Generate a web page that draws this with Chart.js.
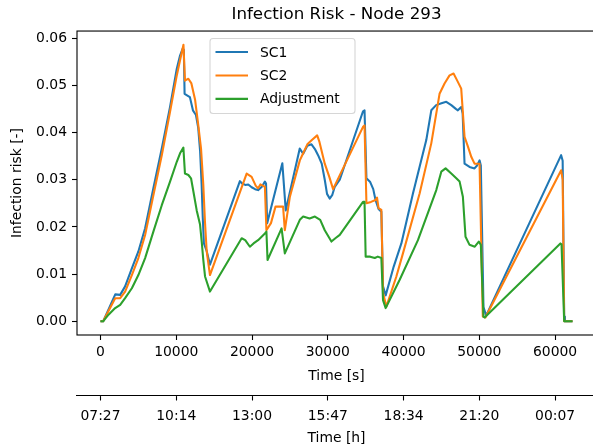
<!DOCTYPE html>
<html>
<head>
<meta charset="utf-8">
<script src="https://cdn.jsdelivr.net/npm/chart.js@4/dist/chart.umd.min.js"></script>
<style>
  body { margin: 0; overflow: hidden; background: #fff; }
  canvas { display: block; }
</style>
</head>
<body>
<canvas id="riskChart" width="600" height="448"></canvas>
<script>
// time [s], infection risk [-]
const sc1 = [[0,0],[350,0],[1950,0.0057],[2600,0.0056],[3250,0.0074],[4140,0.0112],[5000,0.0148],[5890,0.0197],[6980,0.0282],[8090,0.0366],[9180,0.0454],[10070,0.0535],[10500,0.0563],[10850,0.0578],[11000,0.0575],[11100,0.0482],[11800,0.0475],[12200,0.0447],[12600,0.0437],[12900,0.0410],[13150,0.0360],[13350,0.0290],[13500,0.0220],[13650,0.0165],[14000,0.0150],[14450,0.0120],[18400,0.0297],[18700,0.0292],[19100,0.0289],[19500,0.0290],[19950,0.0284],[20400,0.0280],[20800,0.0278],[21300,0.0285],[21700,0.0296],[21850,0.0292],[22000,0.0208],[24000,0.0335],[24450,0.0235],[26300,0.0366],[26750,0.0355],[27300,0.0372],[27850,0.0375],[28300,0.0365],[28720,0.0352],[29200,0.0334],[29600,0.0300],[29900,0.0270],[30250,0.0260],[30600,0.0268],[30920,0.0285],[31580,0.0300],[34650,0.0445],[34850,0.0447],[35100,0.0303],[35600,0.0295],[36000,0.0280],[36300,0.0257],[36700,0.0238],[37070,0.0232],[37290,0.0074],[37640,0.0055],[38700,0.0116],[39710,0.0165],[41240,0.0271],[43000,0.0384],[43660,0.0447],[44300,0.0458],[45000,0.0462],[45640,0.0465],[46300,0.0458],[46900,0.0450],[47170,0.0447],[47610,0.0454],[47800,0.0440],[48050,0.0334],[48710,0.0327],[49370,0.0324],[49700,0.0330],[50030,0.0341],[50200,0.0330],[50550,0.0030],[50900,0.0012],[60800,0.0352],[61000,0.0340],[61200,0.0010],[61300,0],[62300,0]];

const sc2 = [[0,0],[350,0],[1940,0.0049],[2600,0.0049],[3250,0.0063],[4140,0.0098],[5000,0.0134],[5890,0.0183],[6980,0.0267],[8090,0.0352],[9180,0.0444],[10070,0.0521],[10500,0.0553],[10950,0.0586],[11150,0.0510],[11600,0.0514],[12000,0.0504],[12480,0.0470],[12910,0.0415],[13270,0.0366],[13570,0.0289],[13790,0.0211],[14020,0.0148],[14450,0.0098],[19290,0.0313],[19950,0.0306],[20500,0.0287],[20800,0.0282],[21100,0.0290],[21700,0.0285],[21900,0.0193],[22500,0.0208],[23100,0.0243],[24100,0.0243],[24330,0.0193],[25000,0.0264],[26310,0.0341],[26750,0.0356],[27300,0.0375],[27900,0.0384],[28600,0.0394],[28900,0.0380],[29600,0.0334],[30200,0.0306],[30700,0.0280],[34650,0.0412],[34850,0.0415],[35100,0.0250],[35700,0.0253],[36300,0.0257],[36500,0.0262],[36700,0.0240],[37070,0.0236],[37300,0.0060],[37730,0.0031],[39050,0.0095],[39920,0.0144],[42120,0.0271],[43660,0.0377],[44750,0.0482],[45410,0.0504],[46070,0.0521],[46600,0.0525],[47050,0.0511],[47610,0.0493],[48050,0.0391],[48500,0.0370],[48950,0.0348],[49370,0.0334],[50030,0.0334],[50460,0.0010],[50800,0.0008],[60800,0.0320],[61000,0.0300],[61200,0],[62300,0]];

const adjustment = [[0,0],[350,0],[1060,0.0014],[1940,0.0028],[2600,0.0035],[3250,0.0049],[4140,0.0070],[5000,0.0098],[5890,0.0134],[6980,0.0190],[8090,0.0246],[9180,0.0296],[10070,0.0338],[10500,0.0356],[10940,0.0368],[11150,0.0313],[11600,0.0310],[11950,0.0303],[12250,0.0276],[12700,0.0235],[13140,0.0205],[13360,0.0169],[13570,0.0130],[13800,0.0095],[14450,0.0063],[18630,0.0176],[19100,0.0172],[19720,0.0158],[20200,0.0165],[20800,0.0172],[21700,0.0186],[21900,0.0190],[22050,0.0130],[23900,0.0197],[24330,0.0144],[26310,0.0215],[26750,0.0222],[27600,0.0218],[28300,0.0222],[29000,0.0215],[29600,0.0193],[30480,0.0169],[31000,0.0176],[31580,0.0183],[34650,0.0253],[34850,0.0253],[35000,0.0137],[35600,0.0137],[36200,0.0134],[36600,0.0137],[37070,0.0134],[37290,0.0045],[37640,0.0028],[39490,0.0088],[41900,0.0172],[44320,0.0278],[44980,0.0317],[45550,0.0324],[46300,0.0313],[46960,0.0303],[47400,0.0296],[47830,0.0264],[48180,0.0179],[48710,0.0162],[49400,0.0158],[49930,0.0169],[50200,0.0162],[50550,0.0010],[50700,0.0008],[60700,0.0165],[60850,0.0163],[61200,0],[62300,0]];

const secondTicks = [0, 10000, 20000, 30000, 40000, 50000, 60000];
const hourLabels = ['07:27', '10:14', '13:00', '15:47', '18:34', '21:20', '00:07'];
const riskTicks = [0, 0.01, 0.02, 0.03, 0.04, 0.05, 0.06];

const toXY = arr => arr.map(p => ({x: p[0], y: p[1]}));

Chart.defaults.font.family = '"DejaVu Sans", sans-serif';
Chart.defaults.font.size = 13.9;
Chart.defaults.color = '#000';

// matplotlib-like box around the axes
const frame = {
  id: 'frame',
  afterDatasetsDraw(chart) {
    const {ctx, chartArea: a} = chart;
    ctx.save();
    ctx.strokeStyle = '#000';
    ctx.lineWidth = 1.1;
    ctx.strokeRect(a.left, a.top, a.right - a.left, a.bottom - a.top);
    ctx.restore();
  }
};

const legendBox = {
  id: 'legendBox',
  afterDraw(chart) {
    const {ctx, chartArea} = chart;
    const x = chartArea.left + 133, y = chartArea.top + 7.5, w = 145, h = 75;
    ctx.save();
    ctx.beginPath();
    ctx.roundRect(x, y, w, h, 3);
    ctx.fillStyle = 'rgba(255,255,255,0.8)';
    ctx.fill();
    ctx.strokeStyle = 'rgba(204,204,204,0.8)';
    ctx.lineWidth = 1.1;
    ctx.stroke();
    ctx.font = '13.9px "DejaVu Sans"';
    ctx.textBaseline = 'middle';
    ctx.fillStyle = '#000';
    chart.data.datasets.forEach((ds, i) => {
      const ry = y + 13.5 + i * 23.4;
      ctx.strokeStyle = ds.borderColor;
      ctx.lineWidth = 2.08;
      ctx.beginPath();
      ctx.moveTo(x + 5.5, ry);
      ctx.lineTo(x + 38, ry);
      ctx.stroke();
      ctx.fillText(ds.label, x + 50, ry + 1);
    });
    ctx.restore();
  }
};

const tickGrid = {display: true, drawOnChartArea: false, drawTicks: true, tickLength: 5, tickColor: '#000', tickWidth: 1.1};
const setTicks = values => scale => { scale.ticks = values.map(v => ({value: v})); };

new Chart(document.getElementById('riskChart'), {
  type: 'line',
  data: {
    datasets: [
      {label: 'SC1', data: toXY(sc1), borderColor: '#1f77b4', order: 3},
      {label: 'SC2', data: toXY(sc2), borderColor: '#ff7f0e', order: 2},
      {label: 'Adjustment', data: toXY(adjustment), borderColor: '#2ca02c', order: 1}
    ]
  },
  options: {
    responsive: false,
    animation: false,
    devicePixelRatio: 1,
    elements: {
      line: {borderWidth: 2.08, tension: 0, fill: false, borderJoinStyle: 'round'},
      point: {radius: 0}
    },
    layout: {padding: {left: 0, right: 4, top: 0, bottom: 0}},
    plugins: {
      legend: {display: false},
      tooltip: {enabled: false},
      title: {
        display: true,
        text: 'Infection Risk - Node 293',
        fullSize: false,
        font: {size: 16.7, weight: 'normal'},
        color: '#000',
        padding: {top: 5, bottom: 6}
      }
    },
    scales: {
      x: {
        type: 'linear',
        position: 'bottom',
        weight: 0,
        min: -3100,
        max: 65400,
        grid: tickGrid,
        border: {display: false},
        afterBuildTicks: setTicks(secondTicks),
        afterFit: s => { s.height = 60.5; },
        ticks: {padding: 4, maxRotation: 0, autoSkip: false, callback: v => String(v)},
        title: {display: true, text: 'Time [s]', padding: {top: 0, bottom: 11}}
      },
      x2: {
        type: 'linear',
        position: 'bottom',
        weight: 1,
        min: -3100,
        max: 65400,
        grid: tickGrid,
        border: {display: true, color: '#000', width: 1.1},
        afterBuildTicks: setTicks(secondTicks),
        afterFit: s => { s.height = 52.5; },
        ticks: {padding: 8, maxRotation: 0, autoSkip: false,
          callback: v => hourLabels[secondTicks.indexOf(v)]},
        title: {display: true, text: 'Time [h]', padding: {top: 0, bottom: 1.6}}
      },
      y: {
        type: 'linear',
        min: -0.0029,
        max: 0.0615,
        grid: tickGrid,
        border: {display: false},
        afterBuildTicks: setTicks(riskTicks),
        afterFit: s => { s.width = 77; },
        ticks: {padding: 5, callback: v => v.toFixed(2)},
        title: {display: true, text: 'Infection risk [-]', padding: {top: 8.7, bottom: 0}}
      }
    }
  },
  plugins: [frame, legendBox]
});
</script>
</body>
</html>
